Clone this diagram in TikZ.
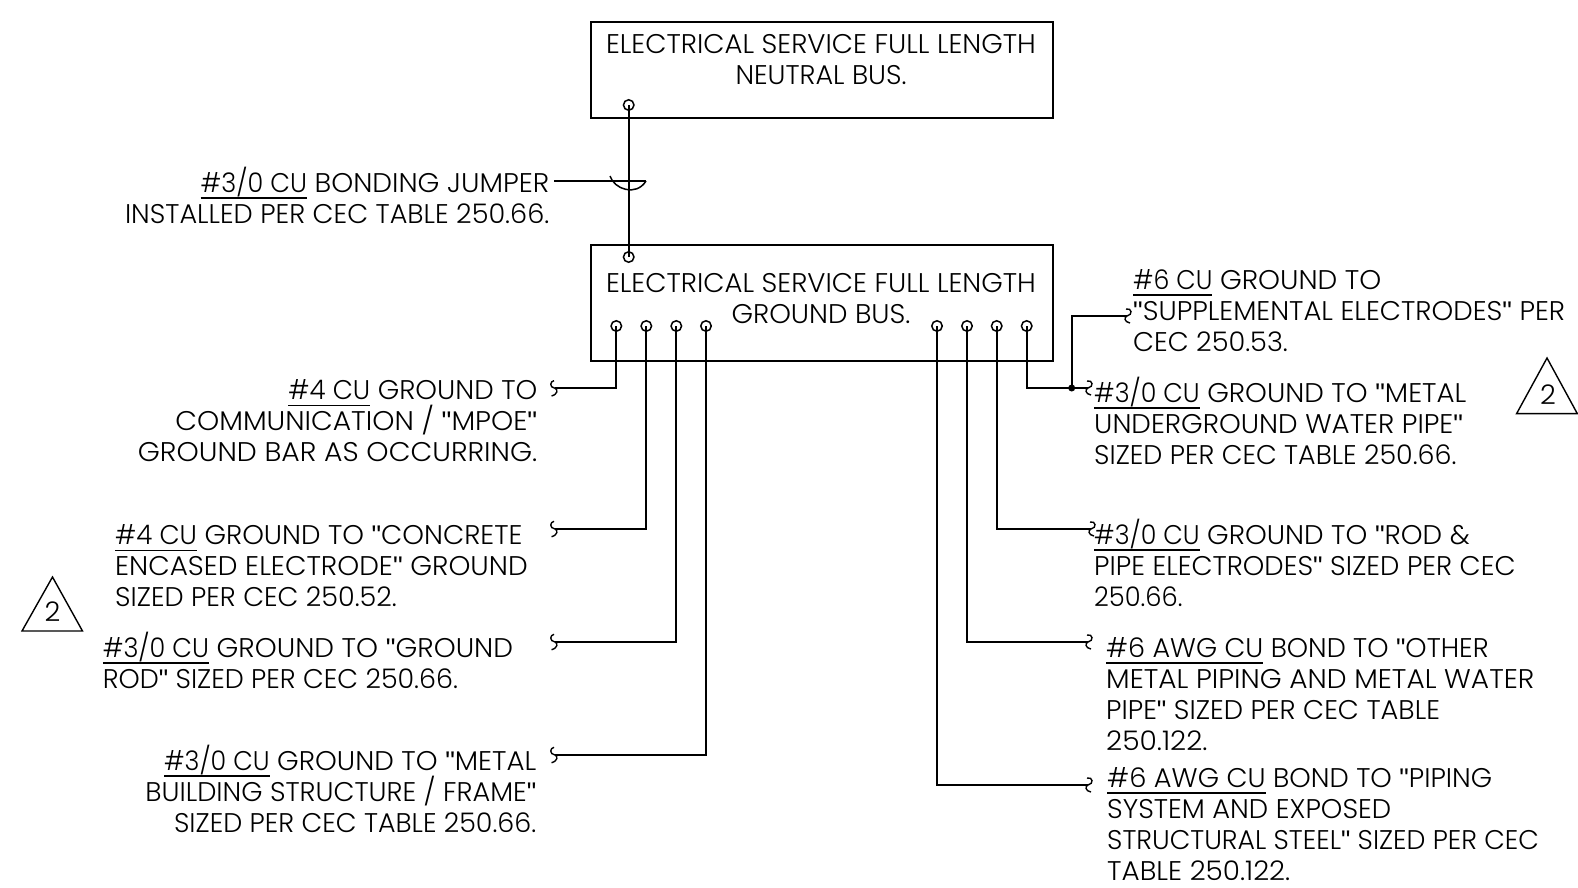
\documentclass[tikz,border=0pt]{standalone}
\usepackage{graphicx}
\usepackage{fontspec}
\setmainfont[FakeStretch=1.02,Ligatures=ResetAll]{Poppins Light}
\newfontfamily\qfont[Ligatures=ResetAll]{Liberation Sans}
\newcommand{\qq}{{\qfont "}}
\newcommand{\ulx}[2][1]{\setbox0=\hbox{\scalebox{#1}[1]{#2}}\rlap{\rule[-6.5pt]{\wd0}{1.6pt}}\box0\relax}
\newcommand{\tstrut}{\rule{0pt}{24pt}}
\newcommand{\wl}[2]{\scalebox{#1}[1]{#2}}
\tikzset{
  x=1pt,y=-1pt,
  wire/.style={line width=1.8pt},
  thinwire/.style={line width=1.5pt},
  boxw/.style={draw,line width=1.8pt,inner sep=0pt},
  term/.style={circle,draw,line width=1.5pt,inner sep=0pt,minimum size=10.5pt},
  txt/.style={inner sep=0pt,font=\fontsize{27}{31}\selectfont},
  ltxt/.style={txt,align=left,anchor=north west},
  rtxt/.style={txt,align=right,anchor=north east},
  ctxt/.style={txt,align=center,anchor=north},
  sq/.style={line width=1.4pt},
  tri/.style={draw,line width=1.4pt},
  dotn/.style={circle,fill=black,inner sep=0pt,minimum size=7pt}
}
\newcommand{\lsq}[1]{\draw[sq,shift={(#1)}] (-1,-7.7) .. controls (-5,-7) and (-6,-1) .. (0,0) .. controls (3,1) and (3,6) .. (-3.5,7.7);}
\newcommand{\rsq}[1]{\draw[sq,shift={(#1)}] (-1,-7) .. controls (5,-8.5) and (6,-1) .. (0,0) .. controls (-3,1) and (-3,6) .. (3,7);}
\lineskiplimit=-50pt\relax
\begin{document}
\begin{tikzpicture}
\useasboundingbox (0,0) rectangle (1578,887);
% boxes
\node[boxw,minimum width=462pt,minimum height=96pt] (neutral) at (822,70) {};
\node[boxw,minimum width=462pt,minimum height=116pt] (ground) at (822,303) {};
\node[ctxt] (tn) at (821,29.5) {\tstrut ELECTRICAL SERVICE FULL LENGTH\\\wl{.983}{NEUTRAL BUS.}};
\node[ctxt] (tg) at (821,268) {\tstrut ELECTRICAL SERVICE FULL LENGTH\\GROUND BUS.};
% terminals
\node[term] (tn1) at (628.7,105) {};
\node[term] (tg0) at (628.7,257) {};
\node[term] (a1) at (616.3,326) {};
\node[term] (a2) at (646.3,326) {};
\node[term] (a3) at (676.3,326) {};
\node[term] (a4) at (706,326) {};
\node[term] (b1) at (937,326) {};
\node[term] (b2) at (967,326) {};
\node[term] (b3) at (996.7,326) {};
\node[term] (b4) at (1026.7,326) {};
% free ends
\coordinate (la1) at (555,388.3);
\coordinate (la2) at (555,529);
\coordinate (la3) at (555,642);
\coordinate (la4) at (555,755);
\coordinate (rb4) at (1088,388);
\coordinate (rb5) at (1127,316);
\coordinate (rb3) at (1091,529);
\coordinate (rb2) at (1088,642);
\coordinate (rb1) at (1088,785);
\coordinate (jl) at (554,181);
\coordinate (jr) at (646,181);
% wires
\draw[wire] (tn1.center) -- (tg0.center);
\draw[thinwire] (jl) -- (jr);
\draw[thinwire] (610,176) .. controls (614,189) and (636,197) .. (jr);
\draw[wire] (a1.center) |- (la1);
\draw[wire] (a2.center) |- (la2);
\draw[wire] (a3.center) |- (la3);
\draw[wire] (a4.center) |- (la4);
\draw[wire] (b1.center) |- (rb1);
\draw[wire] (b2.center) |- (rb2);
\draw[wire] (b3.center) |- (rb3);
\draw[wire] (b4.center) |- (rb4);
\node[dotn] (jd) at (1071.7,388) {};
\draw[wire] (jd.center) |- (rb5);
\lsq{la1}\lsq{la2}\lsq{la3}\lsq{la4}
\rsq{rb1}\rsq{rb2}\rsq{rb3}\rsq{rb4}\rsq{rb5}
% labels
\node[rtxt] (t0) at (549.5,167) {\tstrut\wl{1.014}{\ulx[.915]{\#3/0 CU} BONDING JUMPER}\\\wl{.986}{INSTALLED PER CEC TABLE 250.66.}};
\node[rtxt] (t1) at (537.5,375.6) {\tstrut\wl{1.0}{\ulx[.949]{\#4 CU} GROUND TO}\\\wl{1.023}{COMMUNICATION / \qq MPOE\qq}\\\wl{1.026}{GROUND BAR AS OCCURRING.}};
\node[ltxt] (t2) at (115,520.5) {\tstrut\wl{1.0}{\ulx[.949]{\#4 CU} GROUND TO \qq CONCRETE}\\\wl{1.012}{ENCASED ELECTRODE\qq{} GROUND}\\\wl{.982}{SIZED PER CEC 250.52.}};
\node[ltxt] (t3) at (102.6,632) {\tstrut\wl{1.013}{\ulx[.915]{\#3/0 CU} GROUND TO \qq GROUND}\\\wl{.978}{ROD\qq{} SIZED PER CEC 250.66.}};
\node[rtxt] (t4) at (536.5,745) {\tstrut\wl{1.006}{\ulx[.915]{\#3/0 CU} GROUND TO \qq METAL}\\\wl{.987}{BUILDING STRUCTURE / FRAME\qq}\\\wl{.978}{SIZED PER CEC TABLE 250.66.}};
\node[ltxt] (t5) at (1133,265) {\tstrut\wl{1.012}{\ulx[.903]{\#6 CU} GROUND TO}\\\qq SUPPLEMENTAL ELECTRODES\qq{} PER\\\wl{.987}{CEC 250.53.}};
\node[ltxt] (t6) at (1094,376.5) {\tstrut\wl{1.006}{\ulx[.915]{\#3/0 CU} GROUND TO \qq METAL}\\\wl{1.005}{UNDERGROUND WATER PIPE\qq}\\\wl{.978}{SIZED PER CEC TABLE 250.66.}};
\node[ltxt] (t7) at (1094,518.5) {\tstrut\wl{1.005}{\ulx[.915]{\#3/0 CU} GROUND TO \qq ROD \&}\\\wl{.993}{PIPE ELECTRODES\qq{} SIZED PER CEC}\\\wl{.935}{250.66.}};
\node[ltxt] (t8) at (1106,633) {\tstrut\wl{.982}{\ulx{\#6 AWG CU} BOND TO \qq OTHER}\\\wl{1.017}{METAL PIPING AND METAL WATER}\\\wl{.991}{PIPE\qq{} SIZED PER CEC TABLE}\\\wl{1.02}{250.122.}};
\node[ltxt] (t9) at (1107,763) {\tstrut\wl{.99}{\ulx{\#6 AWG CU} BOND TO \qq PIPING}\\\wl{.993}{SYSTEM AND EXPOSED}\\\wl{.971}{STRUCTURAL STEEL\qq{} SIZED PER CEC}\\\wl{1.011}{TABLE 250.122.}};
% revision triangles
\draw[tri] (52.5,577) -- (82.5,631) -- (22,631) -- cycle;
\node[txt] (r1) at (52.5,612) {2};
\draw[tri] (1547,358) -- (1577.3,413.6) -- (1516.6,413.6) -- cycle;
\node[txt] (r2) at (1548,394.5) {2};
\end{tikzpicture}
\end{document}
